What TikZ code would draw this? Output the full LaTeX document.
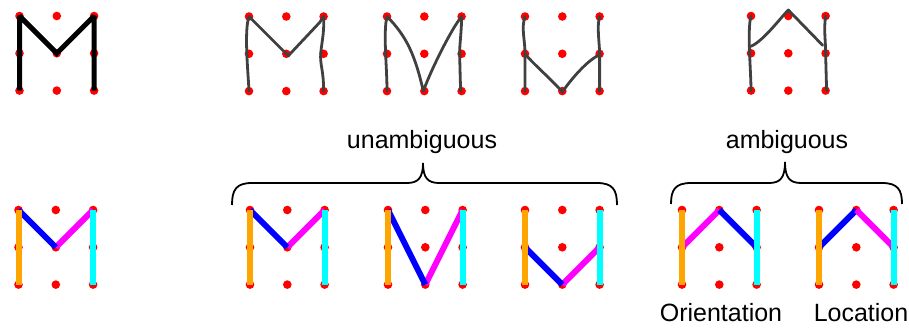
\documentclass[tikz,border=0pt]{standalone}
\usepackage{fontspec}
\setmainfont{Liberation Sans}
\usepackage{tikz}

\definecolor{barorange}{RGB}{255,165,0}
\definecolor{barcyan}{RGB}{0,255,255}
\definecolor{segblue}{RGB}{0,0,255}
\definecolor{segmagenta}{RGB}{255,0,255}
\definecolor{dotred}{RGB}{255,0,0}

% nine red dots, named <grid>-<row><col>
\newcommand{\dotgrid}[3]{%
  \foreach \row in {1,2,3}{
    \foreach \col in {1,2,3}{
      \coordinate (#1-\row\col) at ({#2+37.3*(\col-1)},{#3+37.3*(\row-1)});
      \fill [color=dotred] (#1-\row\col) circle (4.3pt);
    }
  }%
}

\begin{document}
\begin{tikzpicture}[x=1pt, y=-1pt,
  glyph/.style={line width=5pt, color=black, miter limit=1.5},
  hand/.style={line width=2.8pt, color=black!75, line cap=round, line join=round},
  seg/.style={line width=6pt},
  brace/.style={line width=1.8pt, color=black},
  lbl/.style={font=\fontsize{25}{30}\selectfont, inner sep=0pt, anchor=base}]
\useasboundingbox (0,0) rectangle (909,328);

\dotgrid{t1}{19.5}{16}
\dotgrid{t2}{249}{16.5}
\dotgrid{t3}{387}{16.5}
\dotgrid{t4}{525}{16.5}
\dotgrid{t5}{751}{16}
\dotgrid{b1}{18.5}{210}
\dotgrid{b2}{250}{210}
\dotgrid{b3}{388}{210}
\dotgrid{b4}{525}{210}
\dotgrid{b5}{682}{210}
\dotgrid{b6}{819}{210}

% template letter
\draw[glyph] (t1-31) -- (t1-11) -- (t1-22) -- (t1-13) -- (t1-33);

% handwritten letters
\draw[hand] (t2-11) .. controls +(-5,14) and +(-1,-20) .. (t2-31);
\draw[hand] (t2-11) -- ([xshift=2pt,yshift=-2pt]t2-22) -- ([xshift=-4pt,yshift=-6pt]t2-13) -- (t2-13);
\draw[hand] (t2-13) .. controls +(1,18) and +(0,-10) .. ([xshift=-3pt,yshift=-3pt]t2-23) .. controls +(0,10) and +(0,-20) .. (t2-33);

\draw[hand] (t3-11) .. controls +(-4,16) and +(0,-25) .. (t3-31);
\draw[hand] (t3-11) .. controls +(20,20) and +(-8,-35) .. ([xshift=-1pt]t3-32) .. controls +(8,-22) and +(-10,12) .. (t3-13);
\draw[hand] (t3-13) .. controls +(0,15) and +(0,-10) .. ([xshift=-2pt]t3-23) -- ([xshift=-1pt]t3-33);

\draw[hand] (t4-11) .. controls +(-4,12) and +(0,-15) .. (t4-21) -- (t4-31);
\draw[hand] (t4-21) .. controls +(6,8) and +(-8,-10) .. ([yshift=-1pt]t4-32) .. controls +(8,-12) and +(-12,5) .. ([yshift=-1pt]t4-23);
\draw[hand] (t4-13) .. controls +(-3,10) and +(0,-10) .. (t4-23) -- (t4-33);

\draw[hand] (t5-11) .. controls +(-4,14) and +(0,-20) .. (t5-31);
\draw[hand] ([yshift=7pt]t5-21) .. controls +(12,-5) and +(-7,7) .. ([yshift=6pt]t5-12) -- ([xshift=-3pt,yshift=8pt]t5-23);
\draw[hand] (t5-13) .. controls +(-2,15) and +(0,-15) .. (t5-23) -- ([xshift=1pt]t5-33);

% coloured strokes
\draw[seg, color=segmagenta] (b1-22) -- (b1-13);
\draw[seg, color=segblue] (b1-11) -- (b1-22);
\draw[seg, color=segmagenta] (b2-22) -- (b2-13);
\draw[seg, color=segblue] (b2-11) -- (b2-22);
\draw[seg, color=segmagenta] (b3-32) -- (b3-13);
\draw[seg, color=segblue] (b3-11) -- (b3-32);
\draw[seg, color=segmagenta] (b4-32) -- (b4-23);
\draw[seg, color=segblue] (b4-21) -- (b4-32);
\draw[seg, color=segmagenta] (b5-21) -- (b5-12);
\draw[seg, color=segblue] (b5-12) -- (b5-23);
\draw[seg, color=segblue] (b6-21) -- (b6-12);
\draw[seg, color=segmagenta] (b6-12) -- (b6-23);
\foreach \g in {b1,b2,b3,b4,b5,b6}{
  \draw[seg, color=barorange] (\g-11) -- (\g-31);
  \draw[seg, color=barcyan] (\g-13) -- (\g-33);
}

% braces and labels
\draw[brace] (232,205) .. controls (232,190) and (236,183) .. (252,183) -- (407,183)
  .. controls (418,183) and (423,178) .. (423,163)
  .. controls (423,178) and (428,183) .. (439,183) -- (597,183)
  .. controls (613,183) and (617,190) .. (617,205);
\draw[brace] (671,204) .. controls (671,190) and (675,183) .. (691,183) -- (769,183)
  .. controls (780,183) and (785,178) .. (785,162)
  .. controls (785,178) and (790,183) .. (801,183) -- (882,183)
  .. controls (898,183) and (902,190) .. (902,204);

\node[lbl] (unamb) at (422,149) {unambiguous};
\node[lbl] (amb) at (787,149) {ambiguous};
\node[lbl] (orient) at (721,321) {Orientation};
\node[lbl] (locat) at (861,321) {Location};
\end{tikzpicture}
\end{document}
